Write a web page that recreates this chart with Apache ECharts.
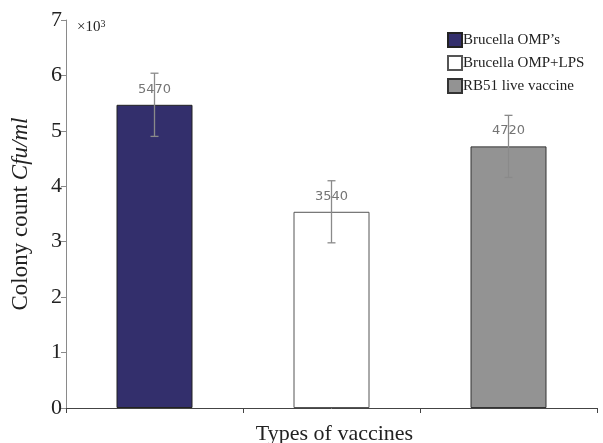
<!DOCTYPE html>
<html>
<head>
<meta charset="utf-8">
<script src="https://cdn.jsdelivr.net/npm/echarts@6/dist/echarts.min.js"></script>
<style>html,body{margin:0;padding:0;background:#fff;}#c{width:603px;height:443px;}</style>
</head>
<body>
<div id="c"></div>
<script>
var categories = ['Brucella OMP\u2019s', 'Brucella OMP+LPS', 'RB51 live vaccine'];
var values = [5470, 3540, 4720];
var errors = [570, 560, 560];
var barColors = ['#332f6c', '#ffffff', '#939393'];
var borderColors = ['#222222', '#555555', '#333333'];
var yTicks = [0, 1000, 2000, 3000, 4000, 5000, 6000, 7000];

var chart = echarts.init(document.getElementById('c'));
var serif = 'Liberation Serif';

var series = categories.map(function (name, i) {
  return {
    name: name,
    type: 'bar',
    barWidth: 76,
    barGap: '-100%',
    data: categories.map(function (c, j) { return j === i ? values[j] : '-'; }),
    itemStyle: { color: barColors[i], borderColor: borderColors[i], borderWidth: 1 },
    label: {
      show: true, position: 'top', distance: 9,
      fontFamily: 'DejaVu Sans', fontSize: 13, color: '#747474'
    },
    z: 2
  };
});

series.push({
  type: 'custom',
  name: 'error',
  z: 10,
  data: values.map(function (v, i) { return [i, v - errors[i], v + errors[i]]; }),
  renderItem: function (params, api) {
    var x = api.value(0);
    var lo = api.coord([x, api.value(1)]);
    var hi = api.coord([x, api.value(2)]);
    var w = 4;
    var st = { stroke: '#8a8a8a', lineWidth: 1.3 };
    return {
      type: 'group',
      children: [
        { type: 'line', shape: { x1: hi[0], y1: hi[1], x2: lo[0], y2: lo[1] }, style: st },
        { type: 'line', shape: { x1: hi[0] - w, y1: hi[1], x2: hi[0] + w, y2: hi[1] }, style: st },
        { type: 'line', shape: { x1: lo[0] - w, y1: lo[1], x2: lo[0] + w, y2: lo[1] }, style: st }
      ]
    };
  },
  encode: { x: 0, y: [1, 2] },
  silent: true
});

chart.setOption({
  animation: false,
  backgroundColor: '#ffffff',
  grid: { left: 66, right: 6, top: 20, bottom: 35, containLabel: false, outerBoundsMode: 'none' },
  legend: {
    data: categories,
    orient: 'vertical',
    left: 442, top: 27,
    itemWidth: 14, itemHeight: 14, itemGap: 7,
    icon: 'rect',
    textStyle: { fontFamily: serif, fontSize: 15, color: '#222', padding: [0, 0, 0, -4] }
  },
  xAxis: {
    type: 'category',
    data: categories,
    axisLine: { lineStyle: { color: '#444', width: 1 } },
    axisTick: { show: true, inside: false, length: 5, lineStyle: { color: '#444' } },
    axisLabel: { show: false },
    name: 'Types of vaccines',
    nameLocation: 'middle',
    nameGap: 15,
    nameTextStyle: { fontFamily: serif, fontSize: 22, color: '#222', padding: [0, 0, 0, 6] }
  },
  yAxis: {
    type: 'value',
    min: 0, max: 7000, interval: 1000,
    splitLine: { show: false },
    axisLine: { show: true, lineStyle: { color: '#8a8a8a', width: 1 } },
    axisTick: { show: true, length: 5, lineStyle: { color: '#8a8a8a' } },
    axisLabel: {
      fontFamily: serif, fontSize: 22, color: '#222', margin: 4,
      formatter: function (v) { return yTicks.indexOf(v) >= 0 ? String(v / 1000) : ''; }
    },
    name: '{a|Colony count }{b|Cfu/ml}',
    nameLocation: 'middle',
    nameRotate: 90,
    nameGap: 34,
    nameTextStyle: {
      fontFamily: serif, fontSize: 23, color: '#222',
      rich: {
        a: { fontFamily: serif, fontSize: 23, color: '#222' },
        b: { fontFamily: serif, fontSize: 23, color: '#222', fontStyle: 'italic' }
      }
    }
  },
  graphic: [{
    type: 'text', left: 77, top: 19,
    style: {
      text: '{a|\u00d710}{s|3}',
      rich: {
        a: { fontFamily: serif, fontSize: 15, fill: '#222' },
        s: { fontFamily: serif, fontSize: 10, fill: '#222', verticalAlign: 'top', padding: [0, 0, 7, 0] }
      }
    }
  }],
  series: series
});
</script>
</body>
</html>
